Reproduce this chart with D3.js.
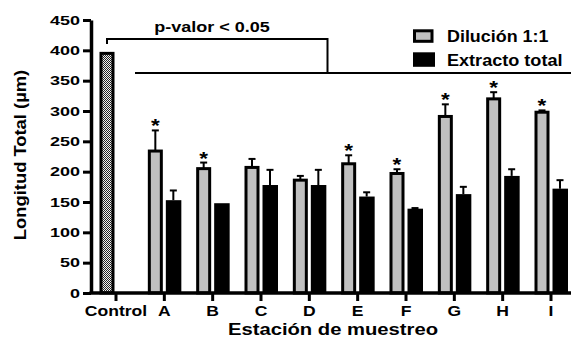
<!DOCTYPE html>
<html>
<head>
<meta charset="utf-8">
<script src="https://cdn.jsdelivr.net/npm/d3@7"></script>
<style>
  body { margin: 0; background: #fff; }
  text { font-family: "Liberation Sans", Arial, sans-serif; font-weight: bold; fill: #000; }
</style>
</head>
<body>
<script>
var categories = ["Control", "A", "B", "C", "D", "E", "F", "G", "H", "I"];
var dilucion = [395, 234, 205, 207, 186, 213, 197, 291, 320, 298];
var dilucionErr = [0, 34, 10, 14, 7, 14, 7, 20, 11, 3];
var extracto = [null, 153, 148, 178, 178, 159, 139, 163, 193, 172];
var extractoErr = [0, 16, 0, 25, 25, 7, 1, 12, 11, 14];
var signif = [false, true, true, false, false, true, true, true, true, true];
var yTicks = [0, 50, 100, 150, 200, 250, 300, 350, 400, 450];

var w = 571, h = 343;
var svg = d3.select("body").append("svg").attr("width", w).attr("height", h);

var defs = svg.append("defs");
var pat = defs.append("pattern").attr("id", "checker")
    .attr("width", 2).attr("height", 2).attr("patternUnits", "userSpaceOnUse");
pat.append("rect").attr("width", 2).attr("height", 2).attr("fill", "#eee");
pat.append("rect").attr("width", 1).attr("height", 1).attr("fill", "#222");
pat.append("rect").attr("x", 1).attr("y", 1).attr("width", 1).attr("height", 1).attr("fill", "#222");

var x = d3.scalePoint().domain(categories).range([115.5, 550.5]);
var y = d3.scaleLinear().domain([0, 450]).range([293, 20]);

// stretched text helper (the original font is wide)
function stext(g, tx, ty, str, size, sx, anchor) {
    return g.append("text")
        .attr("transform", "translate(" + tx + "," + ty + ") scale(" + sx + ",1)")
        .attr("font-size", size)
        .attr("text-anchor", anchor || "start")
        .text(str);
}

var grp = svg.append("g");
categories.forEach(function(c, i) {
    var cx = x(c);
    var top = y(dilucion[i]);
    // error bar
    if (dilucionErr[i] > 0) {
        var et = y(dilucion[i] + dilucionErr[i]);
        grp.append("line").attr("x1", cx - 8.5).attr("x2", cx - 8.5).attr("y1", top).attr("y2", et)
            .attr("stroke", "#000").attr("stroke-width", 2);
        grp.append("line").attr("x1", cx - 12).attr("x2", cx - 5).attr("y1", et).attr("y2", et)
            .attr("stroke", "#000").attr("stroke-width", 2);
    }
    grp.append("rect")
        .attr("x", cx - 14.5).attr("y", top)
        .attr("width", 12).attr("height", y(0) - top)
        .attr("fill", i == 0 ? "url(#checker)" : "#c0c0c0")
        .attr("stroke", "#000").attr("stroke-width", 3);
    if (signif[i]) {
        stext(grp, cx - 8.5, y(dilucion[i] + dilucionErr[i]) + 2, "*", 18, 1.25, "middle");
    }
    if (extracto[i] != null) {
        var bt = y(extracto[i]);
        if (extractoErr[i] > 0) {
            var e2 = y(extracto[i] + extractoErr[i]);
            grp.append("line").attr("x1", cx + 9.5).attr("x2", cx + 9.5).attr("y1", bt).attr("y2", e2)
                .attr("stroke", "#000").attr("stroke-width", 2);
            grp.append("line").attr("x1", cx + 6).attr("x2", cx + 13).attr("y1", e2).attr("y2", e2)
                .attr("stroke", "#000").attr("stroke-width", 2);
        }
        grp.append("rect")
            .attr("x", cx + 2).attr("y", bt)
            .attr("width", 15.5).attr("height", y(0) - bt)
            .attr("fill", "#000");
    }
});

// y axis
var sxY = 1.5;
var yAxis = svg.append("g").attr("transform", "translate(91,0)")
    .call(d3.axisLeft(y).tickValues(yTicks).tickSize(8).tickSizeOuter(0));
yAxis.select(".domain").attr("stroke-width", 3.5);
yAxis.selectAll(".tick line").attr("stroke-width", 3);
yAxis.selectAll(".tick text")
    .attr("font-size", 12).attr("font-family", null)
    .attr("x", -11 / sxY).attr("dy", "0.36em")
    .attr("transform", "scale(" + sxY + ",1)");

// x axis
svg.append("line").attr("x1", 89.5).attr("x2", 571).attr("y1", y(0)).attr("y2", y(0))
    .attr("stroke", "#000").attr("stroke-width", 3.5);
var sxX = 1.17;
var xAxis = svg.append("g").attr("transform", "translate(0," + y(0) + ")")
    .call(d3.axisBottom(x).tickSize(8).tickSizeOuter(0));
xAxis.select(".domain").remove();
xAxis.selectAll(".tick line").attr("stroke-width", 3);
xAxis.selectAll(".tick text")
    .attr("font-size", 15).attr("font-family", null)
    .attr("y", 23).attr("dy", "0")
    .attr("transform", "scale(" + sxX + ",1)");

// axis titles
stext(svg, 333, 335, "Estación de muestreo", 17, 1.19, "middle");
svg.append("text")
    .attr("transform", "translate(26,155) rotate(-90) scale(1.08,1)")
    .attr("font-size", 17).attr("text-anchor", "middle")
    .text("Longitud Total (µm)");

// significance bracket
var br = svg.append("g").attr("fill", "none").attr("stroke", "#000").attr("stroke-width", 2);
br.append("path").attr("d", "M107,44V39H327.5V73");
br.append("line").attr("x1", 135).attr("x2", 571).attr("y1", 73).attr("y2", 73);
stext(svg, 212, 32, "p-valor < 0.05", 15, 1.2, "middle");

// legend
svg.append("rect").attr("x", 414.5).attr("y", 30.8).attr("width", 17.5).attr("height", 10.5)
    .attr("fill", "#c0c0c0").attr("stroke", "#000").attr("stroke-width", 3);
svg.append("rect").attr("x", 413).attr("y", 52.3).attr("width", 22).attr("height", 14.5)
    .attr("fill", "#000");
stext(svg, 447, 41.5, "Dilución 1:1", 16, 1.12);
stext(svg, 447, 65.5, "Extracto total", 16, 1.13);
</script>
</body>
</html>
